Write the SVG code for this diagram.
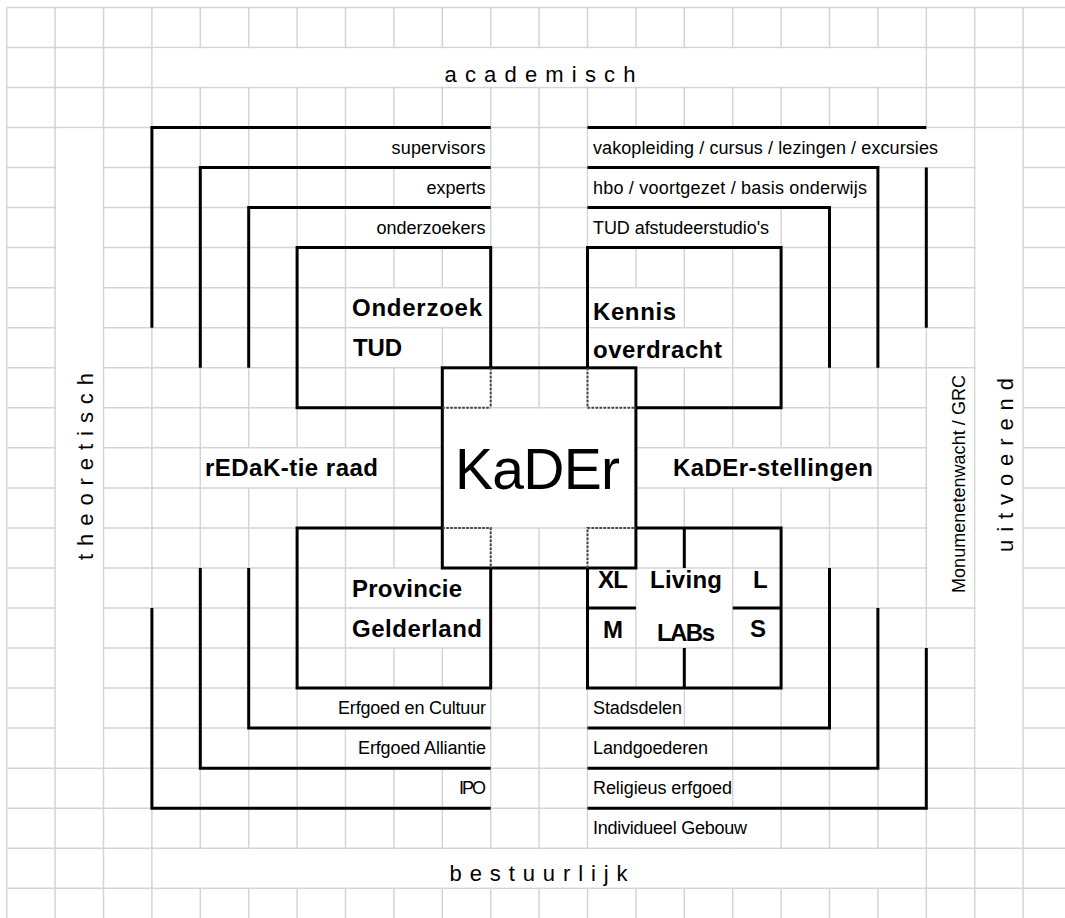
<svg xmlns="http://www.w3.org/2000/svg" width="1065" height="918" viewBox="0 0 1065 918">
<style>
text{font-family:"Liberation Sans",Arial,sans-serif;fill:#000}
.s{font-size:18px}
.b{font-size:24px;font-weight:bold}
.lab{font-size:22px}
.k{fill:none;stroke:#000;stroke-width:3;stroke-linejoin:miter}
.d{fill:none;stroke:#444;stroke-width:2;stroke-dasharray:2.5 1.5}
.m{fill:#fff}
</style>
<rect width="1065" height="918" fill="#fff"/>
<g id="grid" fill="none" stroke="#d4d4d4" stroke-width="1.5">
<path d="M6.7 7.4V918M55.1 7.4V918M103.5 7.4V918M151.9 7.4V918M200.3 7.4V918M248.7 7.4V918M297.1 7.4V918M345.5 7.4V918M393.9 7.4V918M442.3 7.4V918M490.7 7.4V918M539.1 7.4V918M587.5 7.4V918M635.9 7.4V918M684.3 7.4V918M732.7 7.4V918M781.1 7.4V918M829.5 7.4V918M877.9 7.4V918M926.3 7.4V918M974.7 7.4V918M1023.1 7.4V918"/>
<path d="M6.7 7.4H1065M6.7 47.4H1065M6.7 87.5H1065M6.7 127.5H1065M6.7 167.6H1065M6.7 207.6H1065M6.7 247.6H1065M6.7 287.7H1065M6.7 327.7H1065M6.7 367.8H1065M6.7 407.8H1065M6.7 447.8H1065M6.7 487.9H1065M6.7 527.9H1065M6.7 568H1065M6.7 608H1065M6.7 648H1065M6.7 688.1H1065M6.7 728.1H1065M6.7 768.2H1065M6.7 808.2H1065M6.7 848.2H1065M6.7 888.3H1065"/>
</g>
<g id="cell-masks">
<rect class="m" x="152.9" y="48.4" width="772.4" height="38.1"/>
<rect class="m" x="152.9" y="849.2" width="772.4" height="38.1"/>
<rect class="m" x="56.1" y="128.5" width="46.4" height="638.7"/>
<rect class="m" x="975.7" y="128.5" width="46.4" height="638.7"/>
<rect class="m" x="927.3" y="368.8" width="46.4" height="238.2"/>
<rect class="m" x="346.5" y="128.5" width="143.2" height="38.1"/>
<rect class="m" x="394.9" y="168.6" width="94.8" height="38"/>
<rect class="m" x="346.5" y="208.6" width="143.2" height="38"/>
<rect class="m" x="588.5" y="128.5" width="385.2" height="38.1"/>
<rect class="m" x="588.5" y="168.6" width="288.4" height="38"/>
<rect class="m" x="588.5" y="208.6" width="191.6" height="38"/>
<rect class="m" x="346.5" y="288.7" width="143.2" height="38"/>
<rect class="m" x="346.5" y="328.7" width="94.8" height="38.1"/>
<rect class="m" x="588.5" y="288.7" width="94.8" height="38"/>
<rect class="m" x="588.5" y="328.7" width="143.2" height="38.1"/>
<rect class="m" x="201.3" y="448.8" width="191.6" height="38.1"/>
<rect class="m" x="636.9" y="448.8" width="240" height="38.1"/>
<rect class="m" x="443.3" y="408.8" width="191.6" height="118.1"/>
<rect class="m" x="346.5" y="569" width="143.2" height="38"/>
<rect class="m" x="346.5" y="609" width="143.2" height="38"/>
<rect class="m" x="636.9" y="569" width="94.8" height="78"/>
<rect class="m" x="298.1" y="689.1" width="191.6" height="38"/>
<rect class="m" x="346.5" y="729.1" width="143.2" height="38.1"/>
<rect class="m" x="588.5" y="689.1" width="94.8" height="38"/>
<rect class="m" x="588.5" y="729.1" width="143.2" height="38.1"/>
<rect class="m" x="588.5" y="769.2" width="143.2" height="38"/>
<rect class="m" x="588.5" y="809.2" width="191.6" height="38"/>
</g>
<g id="axis-academisch"><text class="lab" x="540" y="81.7" text-anchor="middle" textLength="191">a c a d e m i s c h</text></g>
<g id="axis-bestuurlijk"><text class="lab" x="538.5" y="881" text-anchor="middle" textLength="178">b e s t u u r l i j k</text></g>
<g id="axis-theoretisch"><text class="lab" transform="translate(93.3 466.5) rotate(-90)" text-anchor="middle" textLength="187">t h e o r e t i s c h</text></g>
<g id="axis-uitvoerend"><text class="lab" transform="translate(1012.5 465) rotate(-90)" text-anchor="middle" textLength="174">u i t v o e r e n d</text></g>
<g id="monumentenwacht"><text class="s" transform="translate(965 484) rotate(-90)" text-anchor="middle" textLength="218">Monumenetenwacht / GRC</text></g>
<g id="ring-supervisors"><path class="k" d="M151.9 327.7V127.5H490.7"/><text class="s" x="485.5" y="153.5" text-anchor="end" textLength="94">supervisors</text></g>
<g id="ring-experts"><path class="k" d="M200.3 367.8V167.6H490.7"/><text class="s" x="485.5" y="193.5" text-anchor="end" textLength="59">experts</text></g>
<g id="ring-onderzoekers"><path class="k" d="M248.7 367.8V207.6H490.7"/><text class="s" x="485.5" y="233.5" text-anchor="end" textLength="109">onderzoekers</text></g>
<g id="ring-vakopleiding"><path class="k" d="M587.5 127.5H926.3M926.3 167.6V327.7"/><text class="s" x="593" y="153.5" textLength="345">vakopleiding / cursus / lezingen / excursies</text></g>
<g id="ring-onderwijs"><path class="k" d="M587.5 167.6H877.9V367.8"/><text class="s" x="593" y="193.5" textLength="274">hbo / voortgezet / basis onderwijs</text></g>
<g id="ring-afstudeerstudios"><path class="k" d="M587.5 207.6H829.5V367.8"/><text class="s" x="593" y="233.5" textLength="176">TUD afstudeerstudio's</text></g>
<g id="onderzoek-tud"><path class="k" d="M442.3 407.8H297.1V247.6H490.7V367.8"/><text class="b" x="352" y="316" textLength="130">Onderzoek</text><text class="b" x="353" y="356" textLength="49">TUD</text></g>
<g id="kennis-overdracht"><path class="k" d="M587.5 367.8V247.6H781.1V407.8H635.9"/><text class="b" x="593" y="320" textLength="83">Kennis</text><text class="b" x="593" y="358.3" textLength="129">overdracht</text></g>
<g id="kader"><rect class="k" x="442.3" y="367.8" width="193.6" height="200.2"/><text x="537.5" y="489" text-anchor="middle" font-size="57" textLength="165">KaDEr</text></g>
<g id="redak-tie-raad"><text class="b" x="205" y="476" textLength="173">rEDaK-tie raad</text></g>
<g id="kader-stellingen"><text class="b" x="673" y="476" textLength="200">KaDEr-stellingen</text></g>
<g id="provincie-gelderland"><path class="k" d="M442.3 527.9H297.1V688.1H490.7V568"/><text class="b" x="352" y="597" textLength="110">Provincie</text><text class="b" x="352" y="637" textLength="130">Gelderland</text></g>
<g id="ring-erfgoed-cultuur"><path class="k" d="M248.7 568V728.1H490.7"/><text class="s" x="486" y="713.5" text-anchor="end" textLength="148">Erfgoed en Cultuur</text></g>
<g id="ring-erfgoed-alliantie"><path class="k" d="M200.3 568V768.2H490.7"/><text class="s" x="486" y="753.5" text-anchor="end" textLength="128">Erfgoed Alliantie</text></g>
<g id="ring-ipo"><path class="k" d="M151.9 608V808.2H490.7"/><text class="s" x="486" y="793.5" text-anchor="end" textLength="27">IPO</text></g>
<g id="living-labs"><path class="k" d="M635.9 527.9H781.1V688.1H587.5V568M684.3 527.9V568M684.3 648V688.1M587.5 608H635.9M732.7 608H781.1"/>
<text class="b" x="598" y="588" textLength="30">XL</text><text class="b" x="650" y="588" textLength="72">Living</text><text class="b" x="753" y="588">L</text>
<text class="b" x="603" y="638">M</text><text class="b" x="657" y="640.5" textLength="58">LABs</text><text class="b" x="750" y="637">S</text></g>
<g id="ring-stadsdelen"><path class="k" d="M587.5 728.1H829.5V568"/><text class="s" x="593" y="714" textLength="89">Stadsdelen</text></g>
<g id="ring-landgoederen"><path class="k" d="M587.5 768.2H877.9V608"/><text class="s" x="593" y="754" textLength="115">Landgoederen</text></g>
<g id="ring-religieus"><path class="k" d="M587.5 808.2H926.3V648"/><text class="s" x="593" y="794" textLength="139">Religieus erfgoed</text></g>
<g id="individueel-gebouw"><text class="s" x="593" y="834" textLength="154">Individueel Gebouw</text></g>
<g id="connectors">
<path class="d" d="M490.7 367.8V407.8M442.3 407.8H490.7M587.5 367.8V407.8H635.9M442.3 527.9H490.7V568M587.5 568V527.9H635.9"/>
</g>
</svg>
